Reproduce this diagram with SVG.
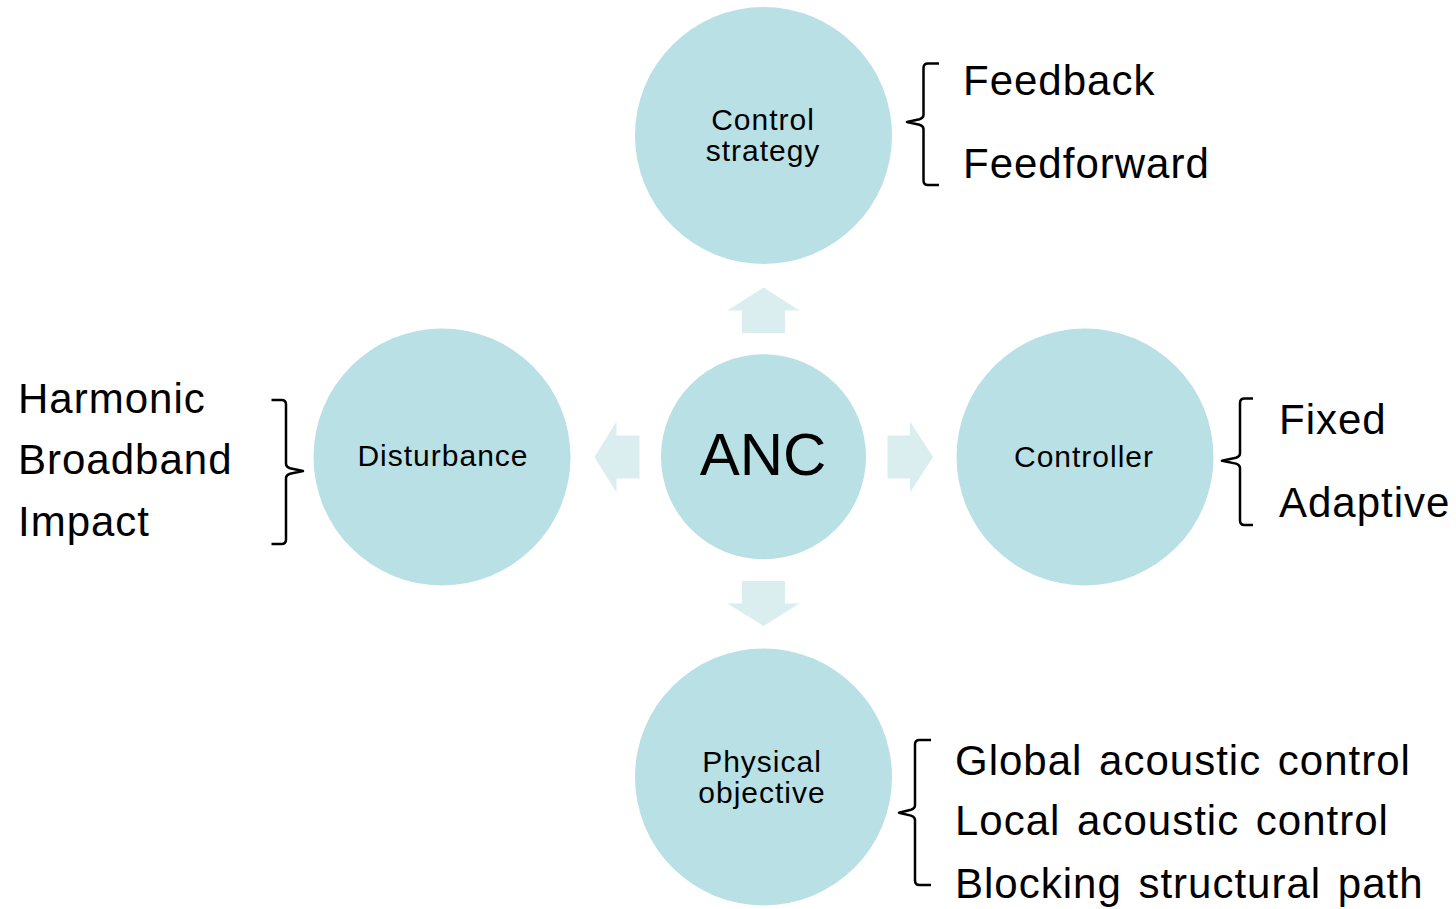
<svg xmlns="http://www.w3.org/2000/svg" width="1456" height="909" viewBox="0 0 1456 909">
<style>
.node{fill:#B9E0E4}
.arr{fill:#DAEDEF}
.brace{fill:none;stroke:#000;stroke-width:2.5;stroke-linejoin:round;stroke-linecap:butt}
.lbl{font-family:"Liberation Sans",Arial,sans-serif;font-size:30px;fill:#000;text-anchor:middle;letter-spacing:1px}
.big{font-family:"Liberation Sans",Arial,sans-serif;font-size:42px;fill:#000;letter-spacing:1px}
.wide{word-spacing:4px}
.anc{font-family:"Liberation Sans",Arial,sans-serif;font-size:60px;fill:#000;text-anchor:middle}
</style>
<rect width="1456" height="909" fill="#fff"/>
<g id="connectors">
<polygon class="arr" points="763.5,287.5 799.5,310.5 785,310.5 785,333 742,333 742,310.5 727.5,310.5"/>
<polygon class="arr" points="742,581 785,581 785,603.5 799.5,603.5 763.5,626 727.5,603.5 742,603.5"/>
<polygon class="arr" points="594.5,457 616.5,421.5 616.5,435.5 639.5,435.5 639.5,478.5 616.5,478.5 616.5,492.5"/>
<polygon class="arr" points="887.5,435.5 910,435.5 910,421.5 933,457 910,492.5 910,478.5 887.5,478.5"/>
</g>
<g id="anc">
<circle class="node" cx="763.5" cy="456.7" r="102.5"/>
<text class="anc" x="763" y="475">ANC</text>
</g>
<g id="control-strategy">
<circle class="node" cx="763.5" cy="135.5" r="128.5"/>
<text class="lbl" x="763" y="129.5">Control</text>
<text class="lbl" x="763" y="161">strategy</text>
<path class="brace" d="M939,63.5 L928,63.5 Q923.5,63.5 923.5,68 L923.5,115 Q923.5,118 919.5,119.3 L907,122 L919.5,124.7 Q923.5,126 923.5,129 L923.5,180.5 Q923.5,185 928,185 L939,185"/>
<text class="big" x="963" y="94.5">Feedback</text>
<text class="big" x="963" y="177.5">Feedforward</text>
</g>
<g id="disturbance">
<circle class="node" cx="442" cy="457" r="128.5"/>
<text class="lbl" x="443" y="466">Disturbance</text>
<path class="brace" d="M271.5,400 L281.5,400 Q286,400 286,404.5 L286,464 Q286,467 290,468.3 L303,471 L290,473.7 Q286,475 286,478 L286,539.5 Q286,544 281.5,544 L271.5,544"/>
<text class="big" x="18" y="412.5">Harmonic</text>
<text class="big" x="18" y="474">Broadband</text>
<text class="big" x="18" y="536">Impact</text>
</g>
<g id="controller">
<circle class="node" cx="1085" cy="457" r="128.5"/>
<text class="lbl" x="1084" y="467">Controller</text>
<path class="brace" d="M1253,398.5 L1244.5,398.5 Q1240,398.5 1240,403 L1240,453.5 Q1240,456.5 1236,457.8 L1222,460.7 L1236,463.6 Q1240,465 1240,468 L1240,520.5 Q1240,525 1244.5,525 L1253,525"/>
<text class="big" x="1279" y="433.5">Fixed</text>
<text class="big" x="1279" y="516.5">Adaptive</text>
</g>
<g id="physical-objective">
<circle class="node" cx="763.5" cy="777" r="128.5"/>
<text class="lbl" x="762" y="771.5">Physical</text>
<text class="lbl" x="762" y="803">objective</text>
<path class="brace" d="M931,740 L919.5,740 Q915,740 915,744.5 L915,805.5 Q915,808.5 911,809.8 L899,812.7 L911,815.6 Q915,817 915,820 L915,880.5 Q915,885 919.5,885 L931,885"/>
<text class="big wide" x="955" y="775">Global acoustic control</text>
<text class="big wide" x="955" y="835">Local acoustic control</text>
<text class="big wide" x="955" y="898">Blocking structural path</text>
</g>
</svg>
